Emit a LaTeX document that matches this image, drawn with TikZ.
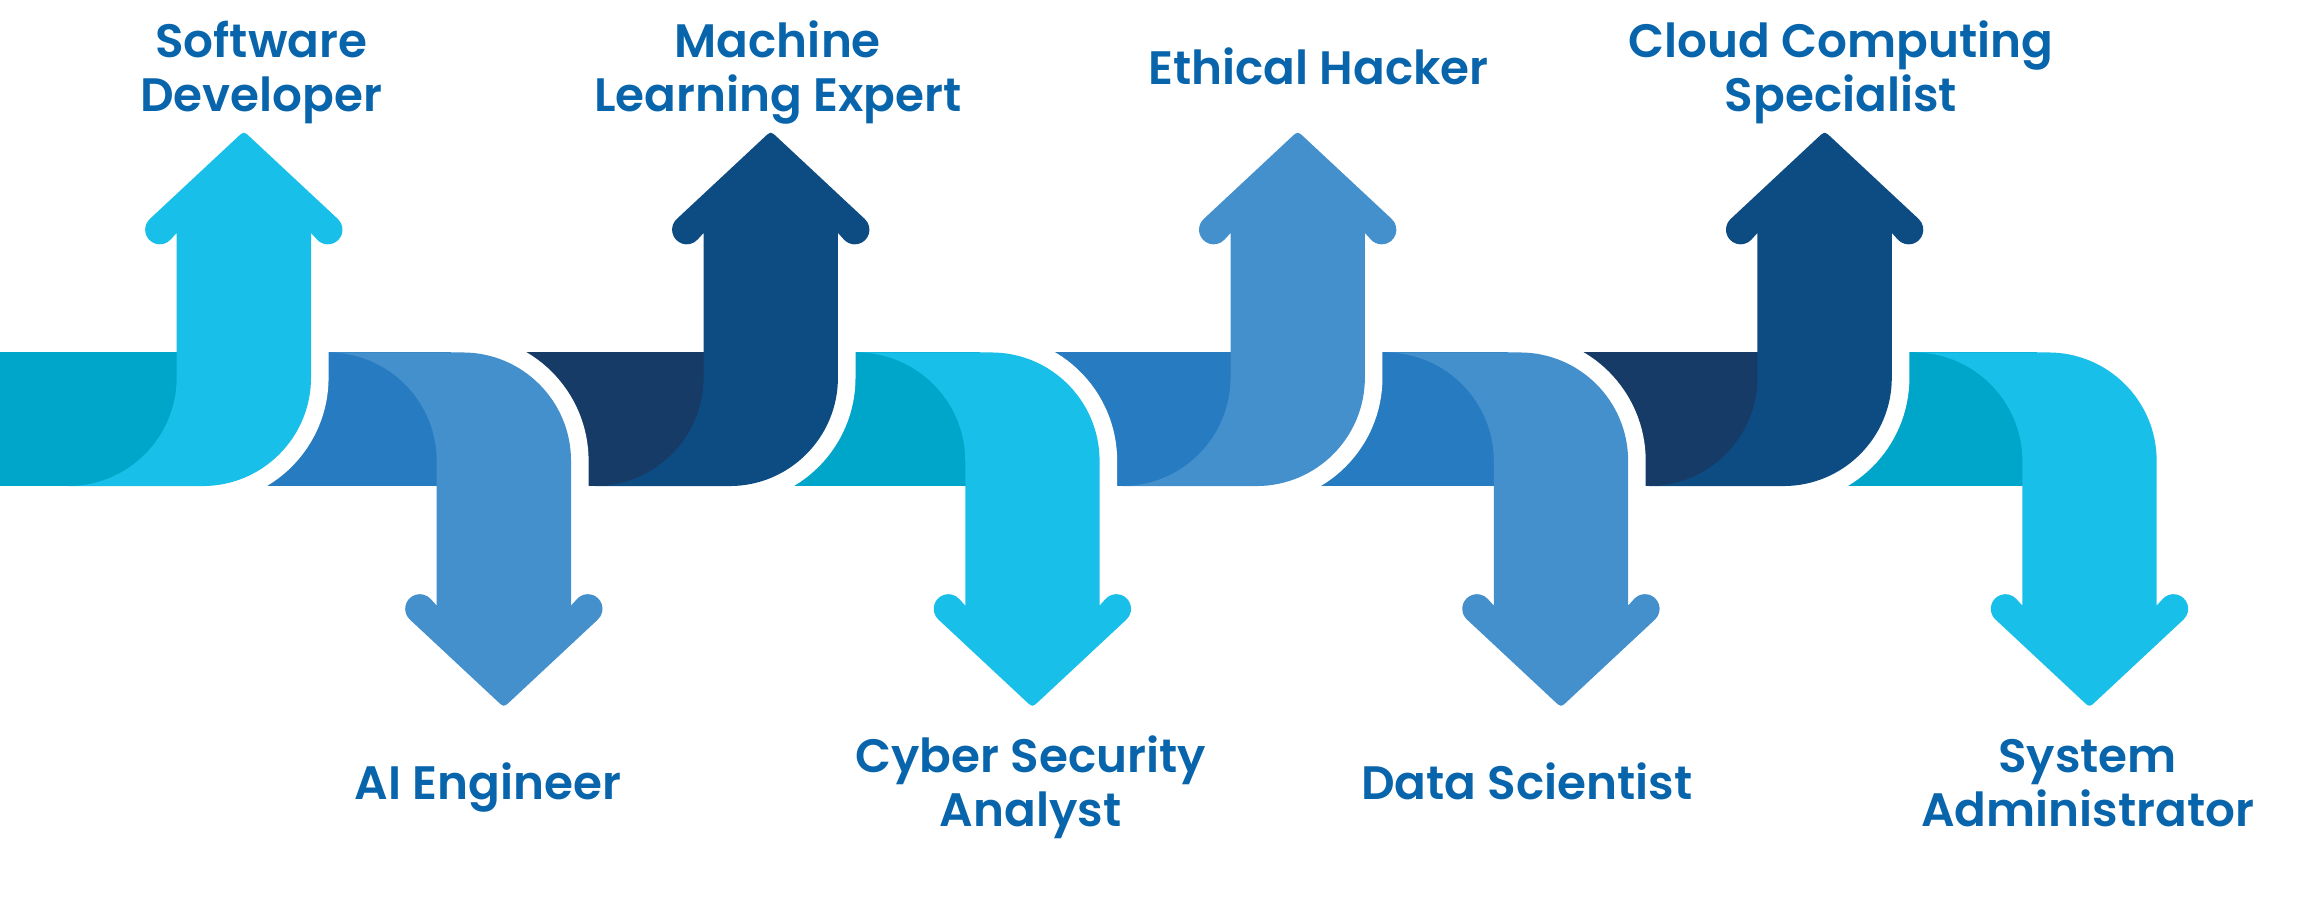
\documentclass[tikz,border=0pt]{standalone}
\usepackage{fontspec}
\setmainfont{Poppins}
\newfontfamily\lblfont{Poppins SemiBold}
\definecolor{tealband}{HTML}{00A5CA}
\definecolor{cyanarrow}{HTML}{18BFE8}
\definecolor{blueband}{HTML}{277BC1}
\definecolor{bluearrow}{HTML}{4490CD}
\definecolor{navyband}{HTML}{163B66}
\definecolor{navyarrow}{HTML}{0D4C82}
\definecolor{labelblue}{HTML}{0865AC}
\begin{document}
\begin{tikzpicture}[x=1pt, y=1pt,
	lbl/.style={font=\lblfont\fontsize{32}{36.5}\selectfont, text=labelblue, align=center, inner sep=0pt, anchor=base},
	gap/.style={draw=white, line width=24pt},
	pics/uparrow/.style={code={
		\draw[gap] (91.7,96) -- (91.7,74) arc[start angle=0, end angle=-90, radius=74];
		\fill[pic actions] (-74,0) -- (17.7,0) arc[start angle=-90, end angle=0, radius=74]
			-- (91.7,172.8) -- (95.79,168.29) arc[start angle=-137.8, end angle=47, radius=10]
			-- (50.24,238.11) .. controls (45.85,242.2) .. (41.46,238.11) -- (-18.32,182.31)
			arc[start angle=133, end angle=317.8, radius=10] -- (0,172.8) -- (0,74)
			arc[start angle=0, end angle=-90, radius=74] -- cycle;
	}},
	pics/downarrow/.style={code={
		\draw[gap] (17.7,0) arc[start angle=90, end angle=0, radius=74] -- (91.7,-96);
		\fill[pic actions] (-74,0) -- (17.7,0) arc[start angle=90, end angle=0, radius=74]
			-- (91.7,-172.8) -- (95.79,-168.29) arc[start angle=137.8, end angle=-47, radius=10]
			-- (50.24,-238.11) .. controls (45.85,-242.2) .. (41.46,-238.11) -- (-18.32,-182.31)
			arc[start angle=-133, end angle=-317.8, radius=10] -- (0,-172.8) -- (0,-74)
			arc[start angle=0, end angle=90, radius=74] -- cycle;
	}}]
	\useasboundingbox (0,0) rectangle (1568,615.7);
	% Band and arrows, right to left
	\fill[tealband] (1219.7,283.9) rectangle (1390.5,375.1);
	\pic[fill=cyanarrow] at (1380.5,375.1) {downarrow};
	\fill[navyband] (1039.7,283.9) rectangle (1209.7,375.1);
	\pic[fill=navyarrow] at (1199.7,283.9) {uparrow};
	\fill[blueband] (860,283.9) rectangle (1029.7,375.1);
	\pic[fill=bluearrow] at (1019.7,375.1) {downarrow};
	\fill[blueband] (678.9,283.9) rectangle (850,375.1);
	\pic[fill=bluearrow] at (840,283.9) {uparrow};
	\fill[tealband] (500.3,283.9) rectangle (668.9,375.1);
	\pic[fill=cyanarrow] at (658.9,375.1) {downarrow};
	\fill[navyband] (318.1,283.9) rectangle (490.3,375.1);
	\pic[fill=navyarrow] at (480.3,283.9) {uparrow};
	\fill[blueband] (140.6,283.9) rectangle (308.1,375.1);
	\pic[fill=bluearrow] at (298.1,375.1) {downarrow};
	\fill[tealband] (0,283.9) rectangle (130.6,375.1);
	\pic[fill=cyanarrow] at (120.6,283.9) {uparrow};
	% Labels (base = last line)
	\node[lbl] (Software) at (178.3,539.7) {Software\\Developer};
	\node[lbl] (Machine) at (531,539.7) {Machine\\Learning Expert};
	\node[lbl] (Hacker) at (900,557.7) {Ethical Hacker};
	\node[lbl] (Cloud) at (1256.7,539.7) {Cloud Computing\\Specialist};
	\node[lbl] (AI) at (333,70.2) {AI Engineer};
	\node[lbl] (Cyber) at (703.5,51.8) {Cyber Security\\Analyst};
	\node[lbl] (Data) at (1042.3,70.2) {Data Scientist};
	\node[lbl] (Admin) at (1425,51.8) {System\\Administrator};
\end{tikzpicture}
\end{document}
